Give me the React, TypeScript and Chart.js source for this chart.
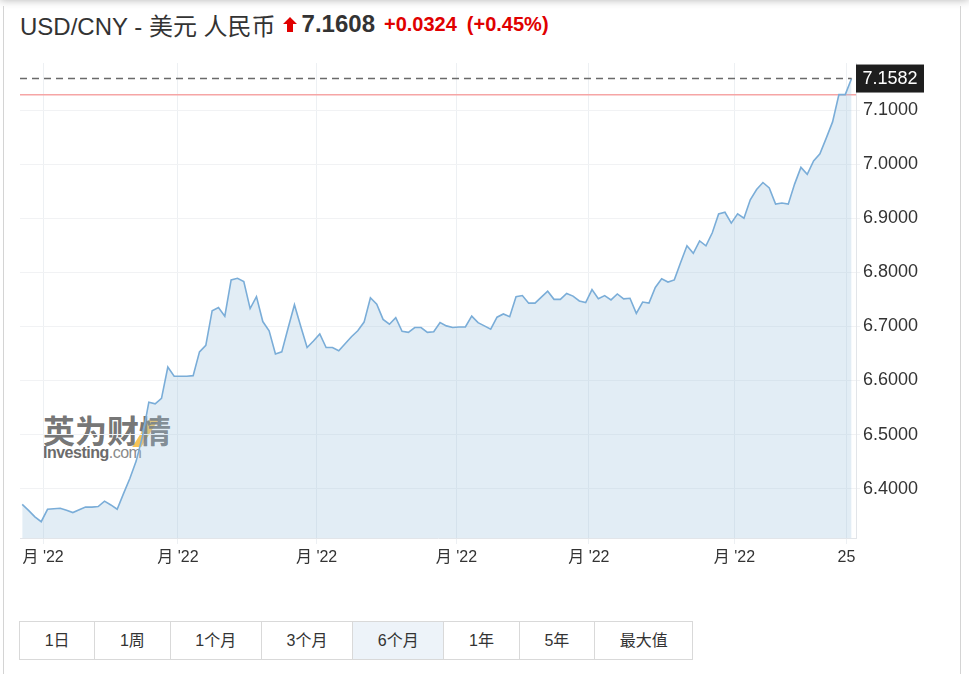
import React, { useEffect, useRef } from "react";
import { Chart, registerables } from "chart.js";

Chart.register(...registerables);

// ---- data ----
const rates: number[] = [
  6.371, 6.360, 6.348, 6.339, 6.362, 6.363, 6.364, 6.360, 6.356, 6.361,
  6.366, 6.366, 6.367, 6.377, 6.370, 6.362, 6.391, 6.419, 6.451, 6.497,
  6.560, 6.557, 6.567, 6.625, 6.608, 6.608, 6.608, 6.609, 6.653, 6.665,
  6.729, 6.735, 6.719, 6.786, 6.789, 6.783, 6.733, 6.755, 6.709, 6.692,
  6.649, 6.653, 6.697, 6.740, 6.700, 6.661, 6.673, 6.686, 6.661, 6.661,
  6.655, 6.668, 6.681, 6.692, 6.708, 6.753, 6.741, 6.713, 6.704, 6.716,
  6.691, 6.689, 6.698, 6.698, 6.689, 6.690, 6.707, 6.701, 6.698, 6.699,
  6.699, 6.719, 6.707, 6.701, 6.695, 6.717, 6.723, 6.718, 6.755, 6.757,
  6.743, 6.743, 6.754, 6.765, 6.750, 6.750, 6.761, 6.756, 6.747, 6.744,
  6.768, 6.751, 6.757, 6.749, 6.760, 6.751, 6.752, 6.724, 6.745, 6.743,
  6.772, 6.788, 6.782, 6.786, 6.818, 6.849, 6.835, 6.858, 6.849, 6.873,
  6.908, 6.911, 6.891, 6.908, 6.900, 6.934, 6.953, 6.966, 6.956, 6.926,
  6.928, 6.926, 6.963, 6.994, 6.981, 7.006, 7.019, 7.048, 7.078, 7.1284,
  7.1284, 7.1582,
];
const xTickPositions: number[] = [3.3, 24.6, 46.5, 68.6, 89.5, 112.5, 130.2];
const xTickLabels: string[] = ["月 '22", "月 '22", "月 '22", "月 '22", "月 '22", "月 '22", "25"];
const yTicks: number[] = [6.4, 6.5, 6.6, 6.7, 6.8, 6.9, 7.0, 7.1];
const yMin = 6.3089;
const yMax = 7.1869;
const prevClose = 7.1284;
const lastRate = 7.1582;

const titleText = "USD/CNY - 美元 人民币";
const headerPrice = "7.1608";
const headerChange = "+0.0324";
const headerPct = "(+0.45%)";
const ranges: string[] = ["1日", "1周", "1个月", "3个月", "6个月", "1年", "5年", "最大值"];
const activeRange = "6个月";

const LATIN = "'Liberation Sans', Arial, 'Noto Sans CJK SC', sans-serif";

const refLines = {
  id: "refLines",
  beforeDatasetsDraw(chart: any) {
    const { ctx, chartArea, scales } = chart;
    const y = scales.y.getPixelForValue(prevClose);
    ctx.save();
    ctx.strokeStyle = "#f6a5a5";
    ctx.lineWidth = 1.5;
    ctx.beginPath();
    ctx.moveTo(chartArea.left, y);
    ctx.lineTo(chartArea.right, y);
    ctx.stroke();
    ctx.restore();
  },
  afterDatasetsDraw(chart: any) {
    const { ctx, chartArea, scales } = chart;
    const y = scales.y.getPixelForValue(lastRate);
    const xEnd = scales.x.getPixelForValue(rates.length - 1);
    ctx.save();
    ctx.strokeStyle = "#6a6a6a";
    ctx.lineWidth = 1.5;
    ctx.setLineDash([7, 5]);
    ctx.beginPath();
    ctx.moveTo(chartArea.left, y);
    ctx.lineTo(xEnd, y);
    ctx.stroke();
    ctx.setLineDash([]);
    const bx = chartArea.right;
    const bw = 68;
    const bh = 28;
    ctx.fillStyle = "#1e1e1e";
    ctx.fillRect(bx, y - bh / 2, bw, bh);
    ctx.fillStyle = "#ffffff";
    ctx.font = "18px " + LATIN;
    ctx.textAlign = "center";
    ctx.textBaseline = "middle";
    ctx.fillText(lastRate.toFixed(4), bx + bw / 2, y + 1);
    ctx.restore();
  },
};

function FxChart() {
  const ref = useRef<HTMLCanvasElement | null>(null);
  useEffect(() => {
    const canvas = ref.current;
    if (!canvas) return;
    const chart = new Chart(canvas, {
      type: "line",
      data: {
        datasets: [
          {
            data: rates.map((v, i) => ({ x: i, y: v })),
            borderColor: "#7aadd8",
            borderWidth: 1.6,
            backgroundColor: "rgba(160,195,222,0.3)",
            fill: "start",
            pointRadius: 0,
            tension: 0,
          },
        ],
      },
      options: {
        animation: false,
        responsive: false,
        events: [],
        layout: { padding: { left: 20, top: 63, right: 0, bottom: 0 } },
        plugins: { legend: { display: false }, tooltip: { enabled: false } },
        scales: {
          x: {
            type: "linear",
            min: -0.35,
            max: 131.7,
            afterBuildTicks: (s: any) => {
              s.ticks = xTickPositions.map((v) => ({ value: v }));
            },
            afterFit: (s: any) => {
              s.height = 62;
            },
            ticks: {
              autoSkip: false,
              maxRotation: 0,
              callback: (_v: any, i: number) => xTickLabels[i],
              font: { size: 16, family: LATIN },
              color: "#333",
              padding: 4,
            },
            grid: { color: "#edf0f3", tickLength: 6 },
            border: { color: "#e2e5e9" },
          },
          y: {
            position: "right",
            min: yMin,
            max: yMax,
            afterBuildTicks: (s: any) => {
              s.ticks = yTicks.map((v) => ({ value: v }));
            },
            afterFit: (s: any) => {
              s.width = 113;
            },
            ticks: {
              callback: (v: any) => Number(v).toFixed(4),
              font: { size: 18, family: LATIN },
              color: "#333",
              padding: 3,
            },
            grid: { color: "#f1f2f4", tickLength: 4 },
            border: { color: "#e2e5e9" },
          },
        },
      },
      plugins: [refLines],
    } as any);
    return () => chart.destroy();
  }, []);
  return (
    <canvas
      ref={ref}
      width={969}
      height={600}
      style={{ position: "absolute", left: 0, top: 0, width: 969, height: 600, zIndex: 2 }}
    />
  );
}

export default function App() {
  return (
    <div style={{ position: "fixed", inset: 0, background: "#fff", overflow: "hidden", fontFamily: LATIN }}>
      {/* frame */}
      <div style={{ position: "absolute", left: 0, top: -12, width: 969, height: 12, boxShadow: "0 0 8px rgba(0,0,0,0.3)", background: "#fff" }} />
      <div style={{ position: "absolute", left: 3, top: 6, width: 956, height: 700, borderLeft: "1px solid #d4d4d4", borderRight: "1px solid #d4d4d4" }} />

      {/* title */}
      <div style={{ position: "absolute", left: 20, top: 9, height: 30, display: "flex", alignItems: "center", whiteSpace: "nowrap", color: "#333" }}>
        <span style={{ fontSize: 24 }}>{titleText}</span>
        <svg width="14" height="15" viewBox="0 0 14 15" style={{ marginLeft: 7 }}>
          <polygon points="7,0 14,7 10,7 10,15 4,15 4,7 0,7" fill="#e00000" />
        </svg>
        <span style={{ fontSize: 24, fontWeight: "bold", marginLeft: 5, color: "#333" }}>{headerPrice}</span>
        <span style={{ fontSize: 20, fontWeight: "bold", marginLeft: 9, color: "#e00000" }}>{headerChange}</span>
        <span style={{ fontSize: 20, fontWeight: "bold", marginLeft: 10, color: "#e00000" }}>{headerPct}</span>
      </div>

      {/* watermark */}
      <div style={{ position: "absolute", left: 43, top: 411, zIndex: 1 }}>
        <div style={{ position: "absolute", left: 98, top: 8, width: 9, height: 28, background: "#f6c356", transform: "skewX(-32deg)" }} />
        <div style={{ position: "relative", fontFamily: "'Noto Sans CJK SC', sans-serif", fontWeight: "bold", fontSize: 32, lineHeight: "37px", color: "rgba(100,100,100,0.9)", letterSpacing: 0 }}>
          英为财情
        </div>
        <div style={{ position: "relative", fontSize: 16, lineHeight: "16px", marginTop: -3, fontWeight: "bold", color: "#6b6b6b", letterSpacing: -0.5 }}>
          Investing<span style={{ fontWeight: "normal", color: "#8a8a8a" }}>.com</span>
        </div>
      </div>

      <FxChart />

      {/* range buttons */}
      <div style={{ position: "absolute", left: 19, top: 621, display: "flex", border: "1px solid #d9d9d9", height: 37 }}>
        {ranges.map((r, i) => (
          <div
            key={r}
            style={{
              padding: "0 24.7px",
              lineHeight: "37px",
              fontSize: 16,
              color: "#333",
              background: r === activeRange ? "#edf3f9" : "#fff",
              borderLeft: i === 0 ? "none" : "1px solid #d9d9d9",
              textAlign: "center",
            }}
          >
            {r}
          </div>
        ))}
      </div>
    </div>
  );
}
